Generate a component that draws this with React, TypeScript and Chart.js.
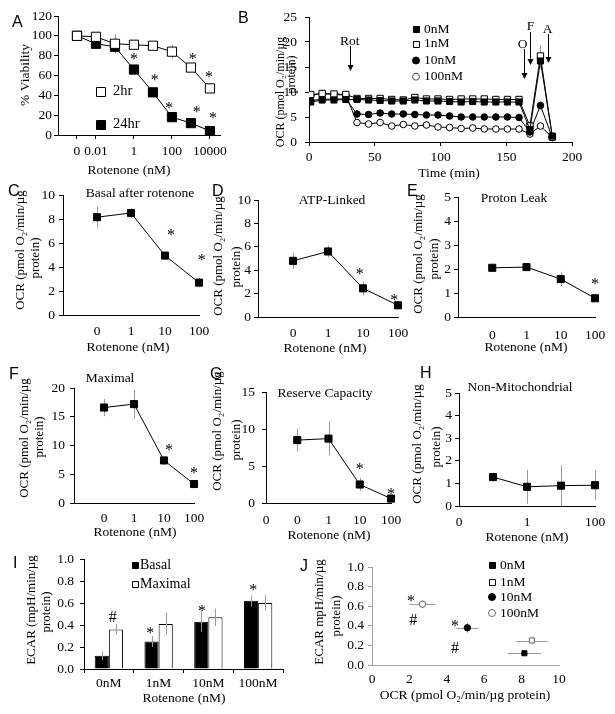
import React, { useEffect, useRef } from "react";
import { Chart, registerables } from "chart.js";

Chart.register(...registerables);

const W = 615;
const H = 714;
const SERIF = '"Liberation Serif", "Times New Roman", serif';
const SANS = '"Liberation Sans", Arial, sans-serif';
const ERR_COLOR = "#9b9b9b";

// ---------- Panel A: % viability vs rotenone ----------
const doseA = [0.001, 0.01, 0.1, 1, 10, 100, 1000, 10000]; // 0 nM drawn at 0.001 on the log axis
const doseATickValues = [0.001, 0.01, 1, 100, 10000];
const doseATickLabels = ["0", "0.01", "1", "100", "10000"];
const viability2hr = [100, 99, 92, 91, 90, 84, 68, 47];
const viability2hrErr = [1, 2, 10, 4, 2, 7, 4, 3];
const viability24hr = [100, 92, 89, 66, 43, 18, 12, 4];
const viability24hrErr = [1, 4, 6, 3, 2, 3, 2, 2];

// ---------- Panel B: OCR time course ----------
const timeB = [1.3, 10, 19, 28, 36.5, 45.3, 54.1, 62.9, 71.7, 80.5, 89.3, 98.1, 106.9, 115.7, 124.5, 133.3, 142.1, 150.9, 159.7, 168, 176, 185];
const ocr0nM = [8.0, 8.4, 8.4, 8.5, 8.5, 8.4, 8.3, 8.2, 8.2, 8.4, 8.2, 8.2, 8.1, 8.0, 8.1, 8.0, 8.0, 8.0, 8.0, 2.5, 16.2, 1.2];
const ocr1nM = [9.5, 9.7, 9.6, 9.5, 8.7, 8.7, 8.7, 8.5, 8.4, 8.9, 8.6, 8.6, 8.5, 8.6, 8.6, 8.6, 8.5, 8.5, 8.5, 3.2, 17.2, 1.0];
const ocr10nM = [8.3, 8.5, 8.6, 8.6, 5.6, 5.5, 5.8, 5.6, 5.6, 5.5, 5.4, 5.4, 5.2, 5.0, 5.0, 5.0, 5.0, 5.0, 4.9, 2.0, 7.3, 0.9];
const ocr100nM = [9.3, 9.7, 9.5, 9.4, 3.9, 3.6, 3.9, 3.2, 3.5, 3.2, 3.4, 3.0, 2.9, 2.7, 2.8, 2.6, 2.6, 2.6, 2.6, 1.6, 3.2, 0.9];
const peakIndexB = 20;
const peakErrB = [1.5, 2.2, 0.8, 0.5];
const seriesNamesB = ["0nM", "1nM", "10nM", "100nM"];

// ---------- Panels C-H: rotenone dose summaries ----------
const rotenoneTickLabels = ["", "0", "1", "10", "100"];
const reserveTickLabels = ["0", "0", "1", "10", "100"];
const nonMitoTickLabels = ["0", "", "1", "", "100"];
const basalAfter = [8.15, 8.5, 4.95, 2.7];
const basalAfterErr = [0.9, 0.4, 0.3, 0.4];
const atpLinked = [4.8, 5.6, 2.45, 1.0];
const atpLinkedErr = [0.7, 0.5, 0.6, 0.15];
const protonLeak = [2.05, 2.08, 1.58, 0.78];
const protonLeakErr = [0.08, 0.1, 0.3, 0.05];
const maximal = [16.6, 17.2, 7.4, 3.3];
const maximalErr = [1.5, 2.5, 0.7, 0.4];
const reserve = [8.5, 8.7, 2.5, 0.6];
const reserveErr = [1.5, 2.3, 0.9, 0.3];
const nonMito = [1.28, 0.85, 0.9, 0.92];
const nonMitoErr = [0.2, 0.75, 0.9, 0.65];

// ---------- Panel I: ECAR bars ----------
const ecarCategories = ["0nM", "1nM", "10nM", "100nM"];
const ecarBasal = [0.12, 0.25, 0.43, 0.62];
const ecarBasalErr = [0.04, 0.05, 0.09, 0.05];
const ecarMaximal = [0.36, 0.41, 0.47, 0.6];
const ecarMaximalErr = [0.05, 0.1, 0.08, 0.07];

// ---------- Panel J: ECAR vs OCR ----------
const jLabels = ["0nM", "1nM", "10nM", "100nM"];
const jOcr = [8.15, 8.55, 5.1, 2.7];
const jOcrErr = [0.9, 0.85, 0.6, 0.7];
const jEcar = [0.12, 0.25, 0.38, 0.62];
const jEcarErr = [0.02, 0.04, 0.05, 0.04];

// ---------- helpers ----------
type Txt = { text: string; x: number; y: number; size?: number; sans?: boolean; align?: CanvasTextAlign };
type Mark = { text: string; x: number; y: number; size?: number };
type Arrow = { x: number; from: number; to: number };
type Leg = { x: number; y: number; shape: "rect" | "circle"; filled: boolean; size: number; label: string; tx: number; font: number; stroke?: string };
interface Decor {
  texts: Txt[];
  yTitle: Txt[];
  marks?: Mark[];
  arrows?: Arrow[];
  legend?: Leg[];
  errOnTop?: boolean;
}
interface Frame {
  x0: number; x1: number; y0: number; y1: number;
  xLabelY: number; yGap: number;
  xTickLen?: number; xTickColor?: string; axisColor?: string;
}

function drawErrors(chart: any) {
  const ctx = chart.ctx;
  ctx.save();
  ctx.strokeStyle = ERR_COLOR;
  ctx.lineWidth = 1;
  chart.data.datasets.forEach((ds: any, i: number) => {
    const meta = chart.getDatasetMeta(i);
    const xs = chart.scales[meta.xAxisID];
    const ys = chart.scales[meta.yAxisID];
    meta.data.forEach((el: any, j: number) => {
      const p = meta.controller.getParsed(j);
      if (!p || p.y == null || isNaN(p.y)) return;
      const cx = Math.round(el.x) + 0.5;
      const cy = Math.round(el.y) + 0.5;
      ctx.beginPath();
      const ey = ds.yErr ? ds.yErr[j] : null;
      if (ey) {
        ctx.moveTo(cx, ys.getPixelForValue(p.y - ey));
        ctx.lineTo(cx, ys.getPixelForValue(p.y + ey));
      }
      const ex = ds.xErr ? ds.xErr[j] : null;
      if (ex) {
        ctx.moveTo(xs.getPixelForValue(p.x - ex), cy);
        ctx.lineTo(xs.getPixelForValue(p.x + ex), cy);
      }
      ctx.stroke();
    });
  });
  ctx.restore();
}

function decorPlugin(d: Decor) {
  return {
    id: "decor",
    beforeDatasetsDraw(chart: any) {
      if (!d.errOnTop) drawErrors(chart);
    },
    afterDatasetsDraw(chart: any) {
      if (d.errOnTop) drawErrors(chart);
      const ctx = chart.ctx;
      const xs = chart.scales.x;
      const ys = chart.scales.y;
      ctx.save();
      ctx.fillStyle = "#000";
      ctx.strokeStyle = "#000";
      ctx.textBaseline = "middle";
      for (const t of d.texts) {
        ctx.font = `${t.size ?? 13.5}px ${t.sans ? SANS : SERIF}`;
        ctx.textAlign = t.align ?? "center";
        ctx.fillText(t.text, t.x, t.y);
      }
      for (const t of d.yTitle) {
        ctx.save();
        ctx.translate(t.x, t.y);
        ctx.rotate(-Math.PI / 2);
        ctx.font = `${t.size ?? 13}px ${SERIF}`;
        ctx.textAlign = "center";
        ctx.fillText(t.text, 0, 0);
        ctx.restore();
      }
      for (const m of d.marks ?? []) {
        const size = m.size ?? 16;
        const px = xs.getPixelForValue(m.x);
        let py = ys.getPixelForValue(m.y);
        if (m.text === "*") py += size * 0.2;
        ctx.font = `${size}px ${SERIF}`;
        ctx.textAlign = "center";
        ctx.fillText(m.text, px, py);
      }
      ctx.lineWidth = 1;
      for (const a of d.arrows ?? []) {
        const px = Math.round(xs.getPixelForValue(a.x)) + 0.5;
        const y1 = ys.getPixelForValue(a.from);
        const y2 = ys.getPixelForValue(a.to);
        ctx.beginPath();
        ctx.moveTo(px, y1);
        ctx.lineTo(px, y2 - 5);
        ctx.stroke();
        ctx.beginPath();
        ctx.moveTo(px - 3, y2 - 6);
        ctx.lineTo(px + 3, y2 - 6);
        ctx.lineTo(px, y2);
        ctx.closePath();
        ctx.fill();
      }
      for (const l of d.legend ?? []) {
        const s = l.size;
        ctx.beginPath();
        if (l.shape === "rect") ctx.rect(Math.round(l.x - s / 2) + 0.5, Math.round(l.y - s / 2) + 0.5, s, s);
        else ctx.arc(l.x, l.y, s / 2, 0, Math.PI * 2);
        ctx.fillStyle = l.filled ? "#000" : "#fff";
        ctx.strokeStyle = l.stroke ?? "#000";
        ctx.fill();
        ctx.stroke();
        ctx.fillStyle = "#000";
        ctx.font = `${l.font}px ${SERIF}`;
        ctx.textAlign = "left";
        ctx.fillText(l.label, l.tx, l.y);
      }
      ctx.restore();
    },
  };
}

function frameOptions(f: Frame, x: any, y: any) {
  const tickFont = { family: SERIF, size: 13.5 };
  const lh = 13.5 * 1.2;
  const xtl = f.xTickLen ?? 4;
  const axisColor = f.axisColor ?? "#000";
  const { ticks: xTicks, grid: xGrid, ...xRest } = x;
  const { ticks: yTicks, ...yRest } = y;
  return {
    responsive: false,
    animation: false,
    events: [],
    layout: { padding: { left: 0, top: f.y0, right: W - f.x1, bottom: H - 40 - f.y1 } },
    plugins: { legend: { display: false }, tooltip: { enabled: false } },
    scales: {
      x: {
        ...xRest,
        border: { display: true, color: axisColor, width: 1 },
        grid: { display: true, drawOnChartArea: false, drawTicks: true, tickLength: xtl, tickColor: f.xTickColor ?? axisColor, ...(xGrid || {}) },
        ticks: { font: tickFont, color: "#000", padding: Math.max(0, f.xLabelY - f.y1 - xtl - lh / 2), maxRotation: 0, minRotation: 0, autoSkip: false, ...(xTicks || {}) },
        title: { display: false },
        afterFit: (s: any) => { s.height = 40; },
      },
      y: {
        ...yRest,
        border: { display: true, color: axisColor, width: 1 },
        grid: { display: true, drawOnChartArea: false, drawTicks: true, tickLength: 4, tickColor: axisColor },
        ticks: { font: tickFont, color: "#000", padding: f.yGap - 4, ...(yTicks || {}) },
        title: { display: false },
        afterFit: (s: any) => { s.width = f.x0; },
      },
    },
  };
}

function pointDs(label: string, data: any[], style: string, filled: boolean, radius: number, extra: any = {}) {
  return {
    label,
    data,
    borderColor: "#000",
    borderWidth: 1,
    pointStyle: style,
    pointRadius: radius,
    pointBackgroundColor: filled ? "#000" : "#fff",
    pointBorderColor: "#000",
    pointBorderWidth: 1,
    fill: false,
    tension: 0,
    ...extra,
  };
}

const OCR_LINE1 = "OCR (pmol O\u2082/min/\u00b5g";

// ---------- panel configs ----------
function panelA() {
  return {
    type: "line",
    data: {
      datasets: [
        pointDs("2hr", doseA.map((x, i) => ({ x, y: viability2hr[i] })), "rect", false, 6.5, { yErr: viability2hrErr }),
        pointDs("24hr", doseA.map((x, i) => ({ x, y: viability24hr[i] })), "rect", true, 6.5, { yErr: viability24hrErr }),
      ],
    },
    options: frameOptions(
      { x0: 58, x1: 220, y0: 16, y1: 135, xLabelY: 151.5, yGap: 6 },
      {
        type: "logarithmic",
        min: 1e-4,
        max: Math.pow(10, 4.53),
        afterBuildTicks: (s: any) => { s.ticks = doseATickValues.map((v) => ({ value: v })); },
        ticks: { callback: (_v: any, i: number) => doseATickLabels[i] },
      },
      { min: 0, max: 120, ticks: { stepSize: 20 } }
    ),
    plugins: [
      decorPlugin({
        texts: [
          { text: "A", x: 12, y: 23, size: 16, sans: true, align: "left" },
          { text: "Rotenone (nM)", x: 129, y: 170 },
        ],
        yTitle: [{ text: "% Viability", x: 25, y: 75, size: 13.5 }],
        legend: [
          { x: 100, y: 91, shape: "rect", filled: false, size: 9, label: "2hr", tx: 113, font: 14.5 },
          { x: 100, y: 124, shape: "rect", filled: true, size: 9, label: "24hr", tx: 113, font: 14.5 },
        ],
        marks: [
          { text: "*", x: 1, y: 79 },
          { text: "*", x: 12.6, y: 57.5 },
          { text: "*", x: 69, y: 30 },
          { text: "*", x: 2000, y: 26 },
          { text: "*", x: 14500, y: 20 },
          { text: "*", x: 1260, y: 78.6 },
          { text: "*", x: 8900, y: 60.5 },
        ],
      }),
    ],
  };
}

function panelB() {
  const series = [ocr0nM, ocr1nM, ocr10nM, ocr100nM];
  const styles: [string, boolean, number][] = [
    ["rect", true, 4.3],
    ["rect", false, 4.5],
    ["circle", true, 3.3],
    ["circle", false, 3.3],
  ];
  return {
    type: "line",
    data: {
      datasets: series.map((vals, k) =>
        pointDs(
          seriesNamesB[k],
          timeB.map((t, i) => ({ x: t, y: vals[i] })),
          styles[k][0],
          styles[k][1],
          styles[k][2],
          { yErr: timeB.map((_t, i) => (i === peakIndexB ? peakErrB[k] : 0)) }
        )
      ),
    },
    options: frameOptions(
      { x0: 309, x1: 572, y0: 17, y1: 142, xLabelY: 157, yGap: 12 },
      { type: "linear", min: 0, max: 200, ticks: { stepSize: 50 } },
      { min: 0, max: 25, ticks: { stepSize: 5 } }
    ),
    plugins: [
      decorPlugin({
        texts: [
          { text: "B", x: 238, y: 18.5, size: 16, sans: true, align: "left" },
          { text: "Time (min)", x: 449, y: 173 },
        ],
        yTitle: [
          { text: OCR_LINE1, x: 281, y: 92, size: 12 },
          { text: "protein)", x: 292, y: 74.5, size: 12 },
        ],
        marks: [
          { text: "Rot", x: 31, y: 20.2, size: 13.5 },
          { text: "O", x: 162.5, y: 19.6, size: 13.5 },
          { text: "F", x: 168.5, y: 23.2, size: 13.5 },
          { text: "A", x: 181.5, y: 22.6, size: 13.5 },
        ],
        arrows: [
          { x: 31, from: 19.2, to: 14.2 },
          { x: 163.4, from: 18.6, to: 12.6 },
          { x: 168, from: 22, to: 15.4 },
          { x: 181.5, from: 21.6, to: 15.8 },
        ],
        legend: [
          { x: 416, y: 29.3, shape: "rect", filled: true, size: 6, label: "0nM", tx: 424, font: 13.5 },
          { x: 416, y: 43.5, shape: "rect", filled: false, size: 6, label: "1nM", tx: 424, font: 13.5 },
          { x: 416, y: 60.5, shape: "circle", filled: true, size: 7, label: "10nM", tx: 424, font: 13.5 },
          { x: 416, y: 76.7, shape: "circle", filled: false, size: 7, label: "100nM", tx: 424, font: 13.5, stroke: "#555" },
        ],
      }),
    ],
  };
}

function summaryPanel(frame: Frame, labels: string[], values: number[], errs: number[], yMax: number, yStep: number, decor: Decor) {
  return {
    type: "line",
    data: {
      labels,
      datasets: [pointDs("OCR", [null, ...values], "rect", true, 5, { yErr: [null, ...errs] })],
    },
    options: frameOptions(
      { xTickColor: "rgba(0,0,0,0)", ...frame },
      { type: "category", offset: false },
      { min: 0, max: yMax, ticks: { stepSize: yStep } }
    ),
    plugins: [decorPlugin(decor)],
  };
}

const panelC = () =>
  summaryPanel({ x0: 63, x1: 199, y0: 195, y1: 315, xLabelY: 331, yGap: 8 }, rotenoneTickLabels, basalAfter, basalAfterErr, 10, 2, {
    texts: [
      { text: "C", x: 8, y: 192, size: 16, sans: true, align: "left" },
      { text: "Basal after rotenone", x: 140, y: 193 },
      { text: "Rotenone (nM)", x: 128, y: 347 },
    ],
    yTitle: [
      { text: OCR_LINE1, x: 21, y: 250 },
      { text: "protein)", x: 36, y: 258 },
    ],
    marks: [
      { text: "*", x: 3.18, y: 6.9 },
      { text: "*", x: 4.08, y: 4.8 },
    ],
  });

const panelD = () =>
  summaryPanel({ x0: 258, x1: 398, y0: 200, y1: 317, xLabelY: 333, yGap: 7 }, rotenoneTickLabels, atpLinked, atpLinkedErr, 10, 2, {
    texts: [
      { text: "D", x: 212, y: 192, size: 16, sans: true, align: "left" },
      { text: "ATP-Linked", x: 332, y: 200 },
      { text: "Rotenone (nM)", x: 325, y: 348 },
    ],
    yTitle: [
      { text: OCR_LINE1, x: 219, y: 256 },
      { text: "protein)", x: 237, y: 267 },
    ],
    marks: [
      { text: "*", x: 2.91, y: 3.85 },
      { text: "*", x: 3.89, y: 1.7 },
    ],
  });

const panelE = () =>
  summaryPanel({ x0: 458, x1: 595, y0: 197, y1: 317, xLabelY: 335, yGap: 7 }, rotenoneTickLabels, protonLeak, protonLeakErr, 5, 1, {
    texts: [
      { text: "E", x: 407, y: 192, size: 16, sans: true, align: "left" },
      { text: "Proton Leak", x: 514, y: 198 },
      { text: "Rotenone (nM)", x: 526, y: 347 },
    ],
    yTitle: [
      { text: OCR_LINE1, x: 419, y: 254 },
      { text: "protein)", x: 435, y: 259 },
    ],
    marks: [{ text: "*", x: 4.0, y: 1.46 }],
  });

const panelF = () =>
  summaryPanel({ x0: 74, x1: 194, y0: 388, y1: 503, xLabelY: 518, yGap: 9 }, rotenoneTickLabels, maximal, maximalErr, 20, 5, {
    texts: [
      { text: "F", x: 9, y: 375, size: 16, sans: true, align: "left" },
      { text: "Maximal", x: 110, y: 378 },
      { text: "Rotenone (nM)", x: 135, y: 532 },
    ],
    yTitle: [
      { text: OCR_LINE1, x: 25, y: 438 },
      { text: "protein)", x: 40, y: 437 },
    ],
    marks: [
      { text: "*", x: 3.17, y: 9.6 },
      { text: "*", x: 4.0, y: 5.7 },
    ],
  });

const panelG = () =>
  summaryPanel({ x0: 266, x1: 391, y0: 392, y1: 503, xLabelY: 520, yGap: 11 }, reserveTickLabels, reserve, reserveErr, 15, 5, {
    texts: [
      { text: "G", x: 210, y: 375, size: 16, sans: true, align: "left" },
      { text: "Reserve Capacity", x: 325, y: 393 },
      { text: "Rotenone (nM)", x: 329, y: 535 },
    ],
    yTitle: [
      { text: OCR_LINE1, x: 218, y: 431 },
      { text: "protein)", x: 237, y: 440 },
    ],
    marks: [
      { text: "*", x: 3.0, y: 4.9 },
      { text: "*", x: 4.0, y: 1.5 },
    ],
  });

const panelH = () =>
  summaryPanel({ x0: 459, x1: 595, y0: 393, y1: 506, xLabelY: 522, yGap: 7 }, nonMitoTickLabels, nonMito, nonMitoErr, 5, 1, {
    texts: [
      { text: "H", x: 420, y: 374, size: 16, sans: true, align: "left" },
      { text: "Non-Mitochondrial", x: 520, y: 387 },
      { text: "Rotenone (nM)", x: 527, y: 537 },
    ],
    yTitle: [
      { text: OCR_LINE1, x: 418, y: 444 },
      { text: "protein)", x: 437, y: 447 },
    ],
  });

function panelI() {
  return {
    type: "bar",
    data: {
      labels: ecarCategories,
      datasets: [
        { label: "Basal", data: ecarBasal, backgroundColor: "#000", borderColor: "#000", borderWidth: 1, yErr: ecarBasalErr, categoryPercentage: 0.57, barPercentage: 1 },
        { label: "Maximal", data: ecarMaximal, backgroundColor: "#fff", borderColor: "#000", borderWidth: 1, yErr: ecarMaximalErr, categoryPercentage: 0.57, barPercentage: 1 },
      ],
    },
    options: frameOptions(
      { x0: 84, x1: 283, y0: 559, y1: 669, xLabelY: 683, yGap: 10 },
      { type: "category" },
      { min: 0, max: 1, ticks: { stepSize: 0.2, callback: (v: number) => v.toFixed(1) } }
    ),
    plugins: [
      decorPlugin({
        errOnTop: true,
        texts: [
          { text: "I", x: 13, y: 564, size: 16, sans: true, align: "left" },
          { text: "Rotenone (nM)", x: 184, y: 698 },
        ],
        yTitle: [
          { text: "ECAR (mpH/min/\u00b5g", x: 32, y: 610 },
          { text: "protein)", x: 47, y: 612 },
        ],
        legend: [
          { x: 135, y: 565, shape: "rect", filled: true, size: 6, label: "Basal", tx: 140, font: 14 },
          { x: 135, y: 584, shape: "rect", filled: false, size: 6, label: "Maximal", tx: 140, font: 14 },
        ],
        marks: [
          { text: "#", x: 0.08, y: 0.47 },
          { text: "*", x: 0.83, y: 0.345 },
          { text: "*", x: 1.87, y: 0.545 },
          { text: "*", x: 2.9, y: 0.736 },
        ],
      }),
    ],
  };
}

function panelJ() {
  const styles: [string, boolean, number][] = [
    ["rect", true, 3.6],
    ["rect", false, 3.6],
    ["circle", true, 3.2],
    ["circle", false, 3.2],
  ];
  return {
    type: "scatter",
    data: {
      datasets: jLabels.map((lab, k) =>
        pointDs(lab, [{ x: jOcr[k], y: jEcar[k] }], styles[k][0], styles[k][1], styles[k][2], {
          showLine: false,
          xErr: [jOcrErr[k]],
          yErr: [jEcarErr[k]],
          pointBorderColor: styles[k][1] ? "#000" : "#666",
        })
      ),
    },
    options: frameOptions(
      { x0: 372, x1: 559, y0: 567, y1: 665, xLabelY: 679, yGap: 8, axisColor: "#a0a0a0", xTickColor: "rgba(0,0,0,0)" },
      { type: "linear", min: 0, max: 10, ticks: { stepSize: 2 } },
      { min: 0, max: 1, ticks: { stepSize: 0.2, callback: (v: number) => v.toFixed(1) } }
    ),
    plugins: [
      decorPlugin({
        texts: [
          { text: "J", x: 300, y: 567, size: 16, sans: true, align: "left" },
          { text: "OCR (pmol O\u2082/min/\u00b5g protein)", x: 465, y: 695 },
        ],
        yTitle: [
          { text: "ECAR mpH/min/\u00b5g", x: 320, y: 612 },
          { text: "protein)", x: 337, y: 616 },
        ],
        legend: [
          { x: 492, y: 565, shape: "rect", filled: true, size: 6, label: "0nM", tx: 500, font: 13.5 },
          { x: 492, y: 582, shape: "rect", filled: false, size: 6, label: "1nM", tx: 500, font: 13.5 },
          { x: 492, y: 597, shape: "circle", filled: true, size: 7, label: "10nM", tx: 500, font: 13.5 },
          { x: 492, y: 613, shape: "circle", filled: false, size: 7, label: "100nM", tx: 500, font: 13.5, stroke: "#666" },
        ],
        marks: [
          { text: "*", x: 2.09, y: 0.68 },
          { text: "#", x: 2.21, y: 0.45 },
          { text: "*", x: 4.44, y: 0.425 },
          { text: "#", x: 4.44, y: 0.17 },
        ],
      }),
    ],
  };
}

const PANELS = [panelA, panelB, panelC, panelD, panelE, panelF, panelG, panelH, panelI, panelJ];

export default function App() {
  const refs = useRef<(HTMLCanvasElement | null)[]>([]);
  useEffect(() => {
    const charts = PANELS.map((make, i) => new Chart(refs.current[i] as HTMLCanvasElement, make() as any));
    return () => charts.forEach((c) => c.destroy());
  }, []);
  return (
    <div style={{ position: "absolute", left: 0, top: 0, width: W, height: H, background: "#fff", overflow: "hidden" }}>
      {PANELS.map((_p, i) => (
        <canvas
          key={i}
          ref={(el) => { refs.current[i] = el; }}
          width={W}
          height={H}
          style={{ position: "absolute", left: 0, top: 0, width: W, height: H }}
        />
      ))}
    </div>
  );
}
